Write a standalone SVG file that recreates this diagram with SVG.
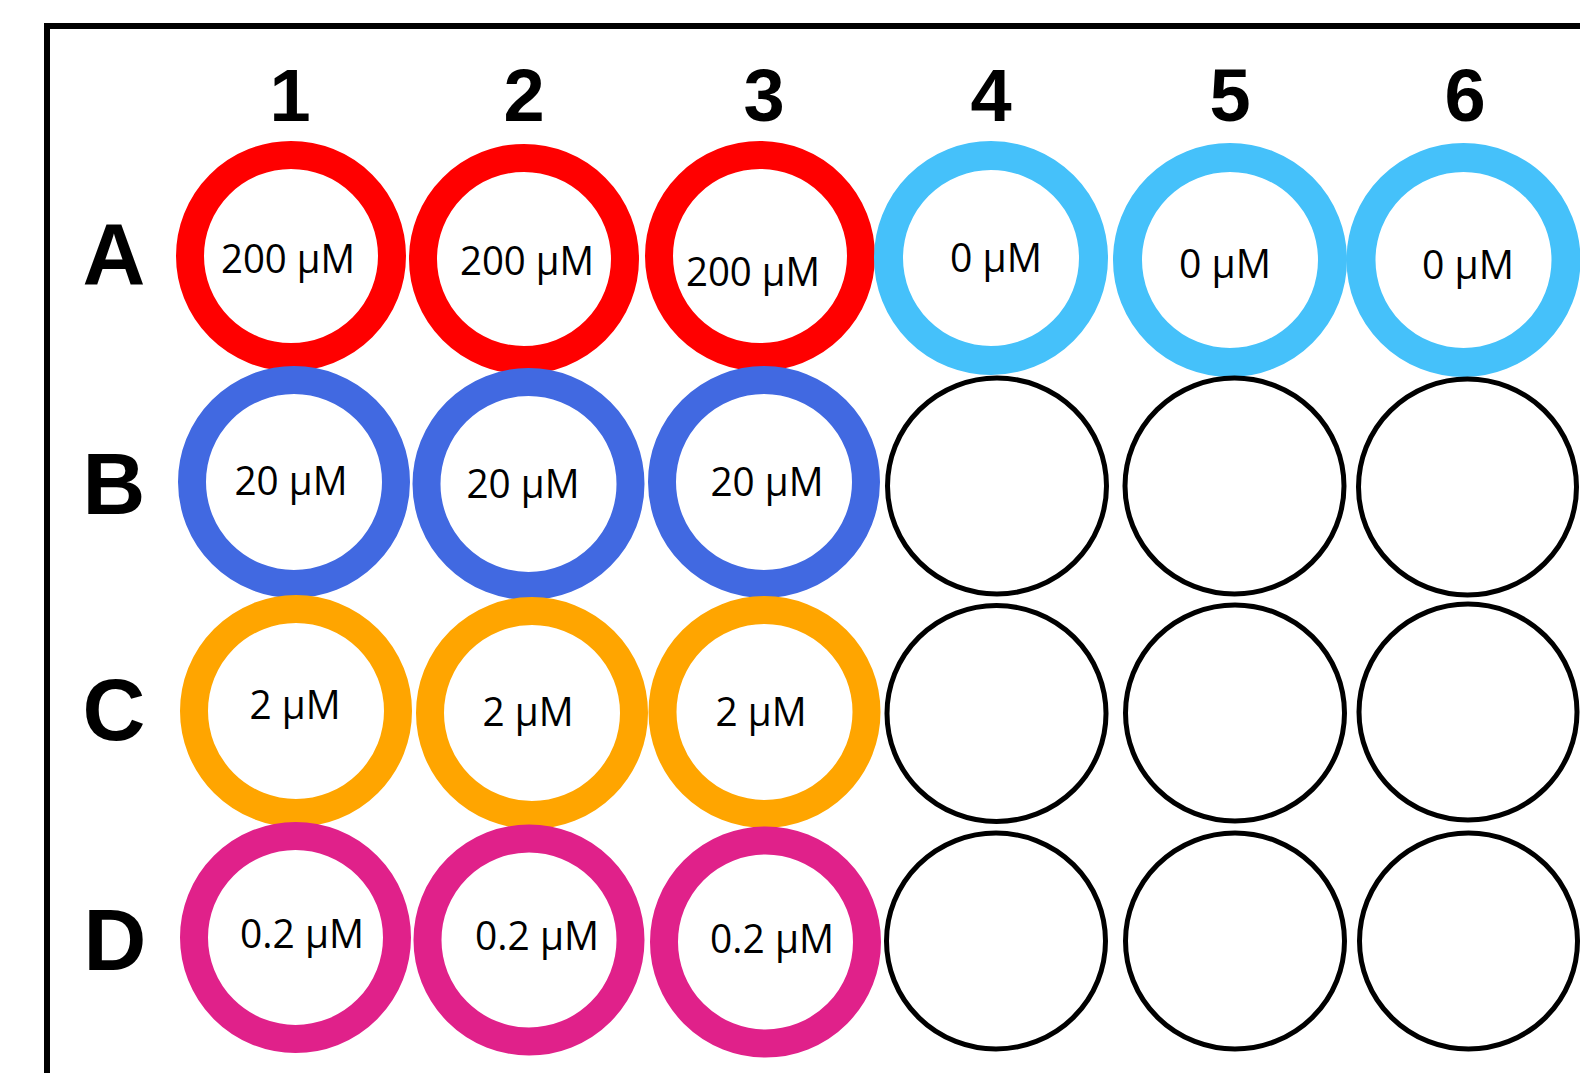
<svg xmlns="http://www.w3.org/2000/svg" width="1580" height="1073" viewBox="0 0 1580 1073">
<style>
.bg{fill:#ffffff}
.frame{fill:none;stroke:#000;stroke-width:6}
.ring{fill:#fff;stroke-width:28}
.red{stroke:#FF0000}
.sky{stroke:#45C1FA}
.blue{stroke:#4169E1}
.orange{stroke:#FFA500}
.pink{stroke:#E0218A}
.empty{fill:#fff;stroke:#000;stroke-width:5}
.col{font-family:"Liberation Sans",Arial,sans-serif;font-weight:bold;font-size:74px;fill:#000;text-anchor:middle}
.row{font-family:"Liberation Sans",Arial,sans-serif;font-weight:bold;font-size:87px;fill:#000;text-anchor:middle}
.lbl{font-family:"Open Sans","Liberation Sans",sans-serif;font-size:40px;fill:#000;text-anchor:middle}
</style>
<rect class="bg" x="0" y="0" width="1580" height="1073"/>
<path class="frame" d="M47,1090 V26 H1600"/>
<g id="column-labels">
<text class="col" x="290" y="121">1</text>
<text class="col" x="524" y="121">2</text>
<text class="col" x="764" y="121">3</text>
<text class="col" x="991" y="121">4</text>
<text class="col" x="1230" y="121">5</text>
<text class="col" x="1465" y="121">6</text>
</g>
<g id="row-labels">
<text class="row" x="114" y="284">A</text>
<text class="row" x="114" y="514">B</text>
<text class="row" x="114" y="740">C</text>
<text class="row" x="115" y="970">D</text>
</g>
<g id="row-A">
<g id="A1"><circle class="ring red" cx="291" cy="256" r="101"/><text class="lbl" x="288" y="273" textLength="134" lengthAdjust="spacingAndGlyphs">200 µM</text></g>
<g id="A2"><circle class="ring red" cx="524" cy="259" r="101"/><text class="lbl" x="527" y="275" textLength="134" lengthAdjust="spacingAndGlyphs">200 µM</text></g>
<g id="A3"><circle class="ring red" cx="760" cy="256" r="101"/><text class="lbl" x="753" y="286" textLength="134" lengthAdjust="spacingAndGlyphs">200 µM</text></g>
<g id="A4"><circle class="ring sky" cx="991" cy="258" r="102.5" style="stroke-width:29"/><text class="lbl" x="996" y="272" textLength="92" lengthAdjust="spacingAndGlyphs">0 µM</text></g>
<g id="A5"><circle class="ring sky" cx="1230" cy="260" r="102.5" style="stroke-width:29"/><text class="lbl" x="1225" y="278" textLength="92" lengthAdjust="spacingAndGlyphs">0 µM</text></g>
<g id="A6"><circle class="ring sky" cx="1463.5" cy="260" r="102.5" style="stroke-width:29"/><text class="lbl" x="1468" y="279" textLength="92" lengthAdjust="spacingAndGlyphs">0 µM</text></g>
</g>
<g id="row-B">
<g id="B1"><circle class="ring blue" cx="294" cy="482" r="102"/><text class="lbl" x="291" y="495" textLength="113" lengthAdjust="spacingAndGlyphs">20 µM</text></g>
<g id="B2"><circle class="ring blue" cx="528.5" cy="484" r="102"/><text class="lbl" x="523" y="498" textLength="113" lengthAdjust="spacingAndGlyphs">20 µM</text></g>
<g id="B3"><circle class="ring blue" cx="764" cy="482" r="102"/><text class="lbl" x="767" y="496" textLength="113" lengthAdjust="spacingAndGlyphs">20 µM</text></g>
<g id="B4"><ellipse class="empty" cx="997" cy="486" rx="109.5" ry="108"/></g>
<g id="B5"><ellipse class="empty" cx="1234.5" cy="486" rx="109.5" ry="108"/></g>
<g id="B6"><ellipse class="empty" cx="1467.5" cy="487" rx="109" ry="108"/></g>
</g>
<g id="row-C">
<g id="C1"><circle class="ring orange" cx="296" cy="711" r="102"/><text class="lbl" x="295" y="719" textLength="91" lengthAdjust="spacingAndGlyphs">2 µM</text></g>
<g id="C2"><circle class="ring orange" cx="532" cy="713" r="102"/><text class="lbl" x="528" y="726" textLength="91" lengthAdjust="spacingAndGlyphs">2 µM</text></g>
<g id="C3"><circle class="ring orange" cx="764.5" cy="712" r="102"/><text class="lbl" x="761" y="726" textLength="91" lengthAdjust="spacingAndGlyphs">2 µM</text></g>
<g id="C4"><ellipse class="empty" cx="996.5" cy="713.5" rx="109.5" ry="108"/></g>
<g id="C5"><ellipse class="empty" cx="1235" cy="713" rx="109.5" ry="108"/></g>
<g id="C6"><ellipse class="empty" cx="1468" cy="712" rx="109" ry="108"/></g>
</g>
<g id="row-D">
<g id="D1"><circle class="ring pink" cx="295.5" cy="937.5" r="101.5"/><text class="lbl" x="302" y="948" textLength="124" lengthAdjust="spacingAndGlyphs">0.2 µM</text></g>
<g id="D2"><circle class="ring pink" cx="529" cy="940" r="101.5"/><text class="lbl" x="537" y="950" textLength="124" lengthAdjust="spacingAndGlyphs">0.2 µM</text></g>
<g id="D3"><circle class="ring pink" cx="765.5" cy="942" r="101.5"/><text class="lbl" x="772" y="953" textLength="124" lengthAdjust="spacingAndGlyphs">0.2 µM</text></g>
<g id="D4"><ellipse class="empty" cx="996" cy="941" rx="109.5" ry="108"/></g>
<g id="D5"><ellipse class="empty" cx="1235" cy="941" rx="109.5" ry="108"/></g>
<g id="D6"><ellipse class="empty" cx="1468.5" cy="941" rx="109" ry="108"/></g>
</g>
<g id="connectors"/>
</svg>
